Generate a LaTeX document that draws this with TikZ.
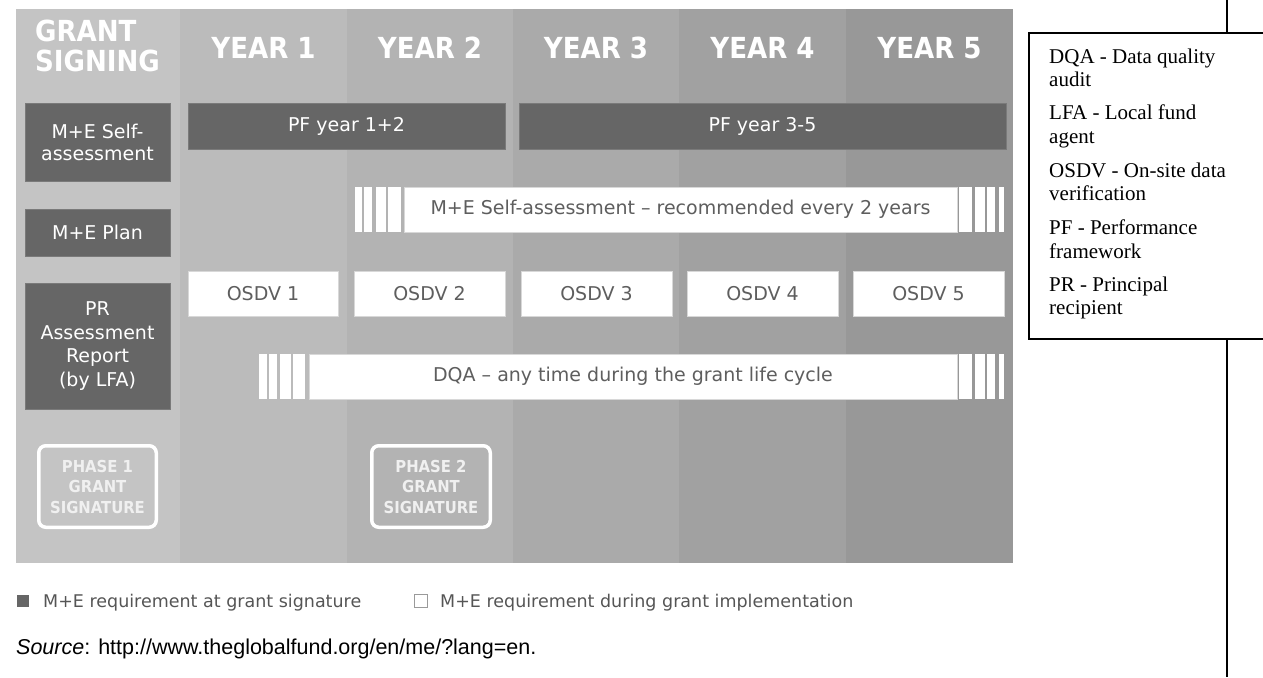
\documentclass[tikz,border=0pt]{standalone}
\usepackage{fontspec}
\setmainfont{Liberation Serif}
\newfontfamily\dvs{DejaVu Sans}
\newfontfamily\dvc{DejaVu Sans Condensed}
\newfontfamily\arialf{Liberation Sans}
\definecolor{cG}{HTML}{C4C4C4}
\definecolor{cA}{HTML}{BBBBBB}
\definecolor{cB}{HTML}{B3B3B3}
\definecolor{cC}{HTML}{AAAAAA}
\definecolor{cD}{HTML}{A1A1A1}
\definecolor{cE}{HTML}{989898}
\definecolor{dk}{HTML}{666666}
\definecolor{dkedge}{HTML}{7A7A7A}
\definecolor{wedge}{HTML}{D8D8D8}
\definecolor{txtg}{HTML}{5E5E5E}
\definecolor{phtxt}{HTML}{F0F0F0}
\definecolor{lgtxt}{HTML}{555555}
\definecolor{sqg}{HTML}{9A9A9A}
\begin{document}
\begin{tikzpicture}[x=1pt,y=-1pt,
  bodyfont/.style={font=\dvs\fontsize{19}{22}\selectfont},
  darkbox/.style={bodyfont, fill=dk, draw=dkedge, line width=0.8, text=white, align=center, inner sep=0},
  whitebox/.style={bodyfont, fill=white, draw=wedge, line width=0.6, text=txtg, align=center, inner sep=0},
  phasebox/.style={draw=white, line width=3.5, rounded corners=7, text=phtxt, align=center, inner sep=0,
    font=\dvc\bfseries\fontsize{16.5}{20.5}\selectfont},
  hdr/.style={text=white, font=\dvc\bfseries\fontsize{29}{30}\selectfont, inner sep=0},
  stripe/.style={fill=white},
  lgtext/.style={text=lgtxt, font=\dvs\fontsize{17.5}{20}\selectfont, inner sep=0, anchor=base west},
  abbr/.style={font=\fontsize{21}{23.5}\selectfont, align=left, inner sep=0, anchor=north west},
  frame/.style={line width=1.6, black}
]
\useasboundingbox (0,0) rectangle (1263,677);
% columns
\fill[cG] (16,9) rectangle (180,563);
\fill[cA] (180,9) rectangle (347,563);
\fill[cB] (347,9) rectangle (513,563);
\fill[cC] (513,9) rectangle (679,563);
\fill[cD] (679,9) rectangle (846,563);
\fill[cE] (846,9) rectangle (1013,563);
% headers
\node[hdr, align=left, anchor=west] (hg) at (35,46.4) {GRANT\\SIGNING};
\node[hdr, anchor=base] (y1) at (263.5,59) {YEAR 1};
\node[hdr, anchor=base] (y2) at (430,59) {YEAR 2};
\node[hdr, anchor=base] (y3) at (596,59) {YEAR 3};
\node[hdr, anchor=base] (y4) at (762.5,59) {YEAR 4};
\node[hdr, anchor=base] (y5) at (929.5,59) {YEAR 5};
% left column boxes
\node[darkbox, minimum width=145, minimum height=78] (msa) at (97.5,142) {M+E Self-\\assessment};
\node[darkbox, minimum width=145, minimum height=47] (mep) at (97.5,232.5) {M+E Plan};
\node[darkbox, minimum width=145, minimum height=126, font=\dvs\fontsize{19}{23.5}\selectfont] (pra) at (97.5,346) {PR\\Assessment\\Report\\(by LFA)};
% PF bars
\node[darkbox, minimum width=317, minimum height=46] (pf12) at (346.5,126) {PF year 1+2};
\node[darkbox, minimum width=487, minimum height=46] (pf35) at (762.5,126) {PF year 3-5};
% M+E self-assessment bar
\fill[stripe] (355,187) rectangle (362,232);
\fill[stripe] (364,187) rectangle (372,232);
\fill[stripe] (376,187) rectangle (386,232);
\fill[stripe] (388,187) rectangle (401,232);
\node[whitebox, minimum width=553, minimum height=45] (msab) at (680.5,209.5) {M+E Self-assessment – recommended every 2 years};
\fill[stripe] (959,187) rectangle (972,232);
\fill[stripe] (975,187) rectangle (985,232);
\fill[stripe] (987,187) rectangle (995,232);
\fill[stripe] (999,187) rectangle (1004,232);
% OSDV
\node[whitebox, minimum width=150, minimum height=45] (o1) at (263,293.5) {OSDV 1};
\node[whitebox, minimum width=151, minimum height=45] (o2) at (429.5,293.5) {OSDV 2};
\node[whitebox, minimum width=151, minimum height=45] (o3) at (596.5,293.5) {OSDV 3};
\node[whitebox, minimum width=151, minimum height=45] (o4) at (762.5,293.5) {OSDV 4};
\node[whitebox, minimum width=151, minimum height=45] (o5) at (928.5,293.5) {OSDV 5};
% DQA bar
\fill[stripe] (259,354) rectangle (267,399);
\fill[stripe] (269,354) rectangle (277,399);
\fill[stripe] (280,354) rectangle (291,399);
\fill[stripe] (293,354) rectangle (305,399);
\node[whitebox, minimum width=648, minimum height=45] (dqa) at (633,376.5) {DQA – any time during the grant life cycle};
\fill[stripe] (959,354) rectangle (972,399);
\fill[stripe] (975,354) rectangle (985,399);
\fill[stripe] (987,354) rectangle (995,399);
\fill[stripe] (999,354) rectangle (1004,399);
% phase boxes
\node[phasebox, minimum width=117.5, minimum height=81.5] (ph1) at (97.5,486.5) {PHASE 1\\GRANT\\SIGNATURE};
\node[phasebox, minimum width=118.5, minimum height=81.5] (ph2) at (431,486.5) {PHASE 2\\GRANT\\SIGNATURE};
% legend
\node[fill=dk, minimum size=12, inner sep=0] (sq1) at (23,601) {};
\node[lgtext] (lg1) at (43,607) {M+E requirement at grant signature};
\node[draw=sqg, line width=0.8, fill=white, minimum size=12.5, inner sep=0] (sq2) at (421,601) {};
\node[lgtext] (lg2) at (440,607) {M+E requirement during grant implementation};
% source
\node[anchor=base west, inner sep=0, font=\arialf\fontsize{21.5}{24}\selectfont] (src) at (16,654) {\textit{Source}: http://www.theglobalfund.org/en/me/?lang=en.};
% abbreviation box
\draw[frame] (1263,33) -- (1028.8,33) -- (1028.8,339) -- (1263,339);
\draw[frame] (1227,0) -- (1227,33);
\draw[frame] (1227,339) -- (1227,677);
\node[abbr] (a1) at (1049,48.7) {DQA - Data quality\\audit};
\node[abbr] (a2) at (1049,104.7) {LFA - Local fund\\agent};
\node[abbr] (a3) at (1049,162.7) {OSDV - On-site data\\verification};
\node[abbr] (a4) at (1049,219.7) {PF - Performance\\framework};
\node[abbr] (a5) at (1049,276.7) {PR - Principal\\recipient};
\end{tikzpicture}
\end{document}
